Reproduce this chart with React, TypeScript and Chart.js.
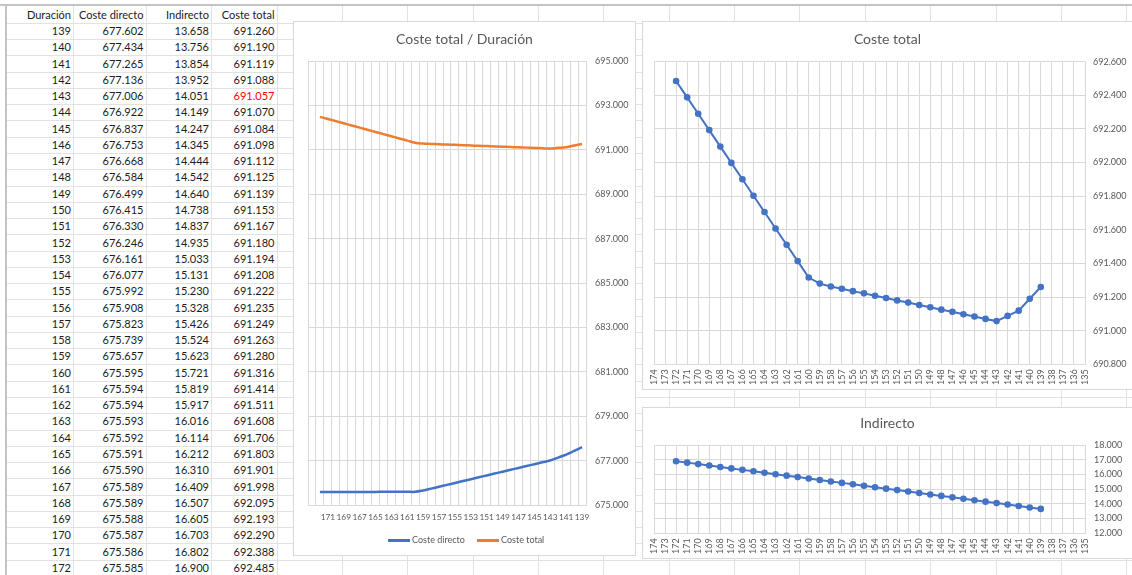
import React, { useEffect, useRef } from "react";
import { Chart, registerables } from "chart.js";

Chart.register(...registerables);

// Duración del proyecto (días) y costes asociados
const durations = [
  139, 140, 141, 142, 143, 144, 145, 146, 147, 148, 149, 150, 151, 152, 153, 154, 155,
  156, 157, 158, 159, 160, 161, 162, 163, 164, 165, 166, 167, 168, 169, 170, 171, 172,
];
const costeDirecto = [
  677602, 677434, 677265, 677136, 677006, 676922, 676837, 676753, 676668, 676584, 676499,
  676415, 676330, 676246, 676161, 676077, 675992, 675908, 675823, 675739, 675657, 675595,
  675594, 675594, 675593, 675592, 675591, 675590, 675589, 675589, 675588, 675587, 675586,
  675585,
];
const indirecto = [
  13658, 13756, 13854, 13952, 14051, 14149, 14247, 14345, 14444, 14542, 14640, 14738, 14837,
  14935, 15033, 15131, 15230, 15328, 15426, 15524, 15623, 15721, 15819, 15917, 16016, 16114,
  16212, 16310, 16409, 16507, 16605, 16703, 16802, 16900,
];
const costeTotal = [
  691260, 691190, 691119, 691088, 691057, 691070, 691084, 691098, 691112, 691125, 691139,
  691153, 691167, 691180, 691194, 691208, 691222, 691235, 691249, 691263, 691280, 691316,
  691414, 691511, 691608, 691706, 691803, 691901, 691998, 692095, 692193, 692290, 692388,
  692485,
];

// Ejes de categorías (duración decreciente)
const mainAxisTicks = [
  173, 172, 171, 170, 169, 168, 167, 166, 165, 164, 163, 162, 161, 160, 159, 158, 157, 156,
  155, 154, 153, 152, 151, 150, 149, 148, 147, 146, 145, 144, 143, 142, 141, 140, 139,
];
const wideAxisTicks = [
  174, 173, 172, 171, 170, 169, 168, 167, 166, 165, 164, 163, 162, 161, 160, 159, 158, 157,
  156, 155, 154, 153, 152, 151, 150, 149, 148, 147, 146, 145, 144, 143, 142, 141, 140, 139,
  138, 137, 136, 135,
];

const headers = ["Duración", "Coste directo", "Indirecto", "Coste total"];

const BLUE = "#4472C4";
const ORANGE = "#ED7D31";
const GRID = "#d9d9d9";
const TEXT = "#595959";
const SHEET_LINE = "#e2e2e2";
const FONT = "Lato, 'Noto Sans', sans-serif";

const fmt = (n: number) => String(Math.round(n)).replace(/\B(?=(\d{3})+(?!\d))/g, ".");

const byDuration = (values: number[], ticks: number[]) =>
  ticks.map((t) => {
    const i = durations.indexOf(t);
    return i >= 0 ? values[i] : null;
  });

const minTotalIndex = costeTotal.indexOf(Math.min(...costeTotal));

// column right edges of the sheet table
const colRight = [71, 143.5, 209, 274.5];
const sheetCols = [73, 146, 211, 277, 342, 407, 473, 538, 603, 669, 734, 799, 865, 930, 996, 1061, 1126];
const ROW_H = 16.27;
const sheetRows: number[] = [];
for (let k = 0; k <= 34; k++) sheetRows.push(22.8 + k * ROW_H);

function rotatedAxis(ticks: number[], height: number) {
  return {
    offset: false,
    grid: { offset: false, color: GRID, drawTicks: false },
    border: { color: GRID },
    ticks: {
      autoSkip: false,
      minRotation: 90,
      maxRotation: 90,
      padding: 5,
      color: TEXT,
      font: { size: 9, family: FONT },
      callback: (_v: unknown, i: number) => String(ticks[i]),
    },
    afterFit: (s: any) => {
      s.height = height;
    },
  };
}

function valueAxis(min: number, max: number, step: number, width: number, pad: number) {
  return {
    position: "right" as const,
    min,
    max,
    grid: { color: GRID, drawTicks: false },
    border: { display: false },
    ticks: {
      stepSize: step,
      padding: pad,
      color: TEXT,
      font: { size: 9, family: FONT },
      callback: (v: any) => fmt(Number(v)),
    },
    afterFit: (s: any) => {
      s.width = width;
    },
  };
}

const basePlugins = {
  legend: { display: false },
  title: { display: false },
  tooltip: { enabled: false },
};

export default function App() {
  const c1 = useRef<HTMLCanvasElement>(null);
  const c2 = useRef<HTMLCanvasElement>(null);
  const c3 = useRef<HTMLCanvasElement>(null);

  useEffect(() => {
    Chart.defaults.font.family = FONT;
    const charts: Chart[] = [];

    charts.push(
      new Chart(c1.current!, {
        type: "line",
        data: {
          labels: mainAxisTicks.map(String),
          datasets: [
            {
              label: "Coste directo",
              data: byDuration(costeDirecto, mainAxisTicks),
              borderColor: BLUE,
              borderWidth: 2.5,
              pointRadius: 0,
              tension: 0.4,
            },
            {
              label: "Coste total",
              data: byDuration(costeTotal, mainAxisTicks),
              borderColor: ORANGE,
              borderWidth: 2.5,
              pointRadius: 0,
              tension: 0.4,
            },
          ],
        },
        options: {
          responsive: false,
          animation: false,
          events: [],
          layout: { padding: { left: 14, top: 39, right: 0, bottom: 0 } },
          plugins: basePlugins as any,
          scales: {
            x: {
              offset: true,
              grid: { offset: true, color: GRID, drawTicks: false },
              border: { color: GRID },
              ticks: {
                autoSkip: false,
                maxRotation: 0,
                minRotation: 0,
                padding: 7,
                color: TEXT,
                font: { size: 8.3, family: FONT },
                callback: (_v: unknown, i: number) =>
                  i > 0 && i % 2 === 0 ? String(mainAxisTicks[i]) : "",
              },
              afterFit: (s: any) => {
                s.height = 50;
              },
            } as any,
            y: valueAxis(675000, 695000, 2000, 49, 9) as any,
          },
        },
      })
    );

    charts.push(
      new Chart(c2.current!, {
        type: "line",
        data: {
          labels: wideAxisTicks.map(String),
          datasets: [
            {
              label: "Coste total",
              data: byDuration(costeTotal, wideAxisTicks),
              borderColor: BLUE,
              backgroundColor: BLUE,
              borderWidth: 2,
              pointRadius: 3.3,
              pointBorderWidth: 0,
              pointBackgroundColor: BLUE,
              tension: 0,
            },
          ],
        },
        options: {
          responsive: false,
          animation: false,
          events: [],
          layout: { padding: { left: 11, top: 39.7, right: 0, bottom: 0 } },
          plugins: basePlugins as any,
          scales: {
            x: rotatedAxis(wideAxisTicks, 24.7) as any,
            y: valueAxis(690800, 692600, 200, 48, 8) as any,
          },
        },
      })
    );

    charts.push(
      new Chart(c3.current!, {
        type: "line",
        data: {
          labels: wideAxisTicks.map(String),
          datasets: [
            {
              label: "Indirecto",
              data: byDuration(indirecto, wideAxisTicks),
              borderColor: BLUE,
              backgroundColor: BLUE,
              borderWidth: 2,
              pointRadius: 3.3,
              pointBorderWidth: 0,
              pointBackgroundColor: BLUE,
              tension: 0,
            },
          ],
        },
        options: {
          responsive: false,
          animation: false,
          events: [],
          layout: { padding: { left: 11, top: 37, right: 0, bottom: 0 } },
          plugins: basePlugins as any,
          scales: {
            x: rotatedAxis(wideAxisTicks, 24.7) as any,
            y: valueAxis(12000, 18000, 1000, 48, 9) as any,
          },
        },
      })
    );

    return () => charts.forEach((c) => c.destroy());
  }, []);

  const abs = (style: React.CSSProperties): React.CSSProperties => ({ position: "absolute", ...style });

  const cellText = (text: string, col: number, cy: number, color = "#1b1b1b", key?: string) => (
    <div
      key={key}
      style={abs({
        left: col === 0 ? 6 : colRight[col - 1] + 4,
        width: (col === 0 ? colRight[0] - 6 : colRight[col] - colRight[col - 1] - 4),
        top: cy - 8,
        height: 16,
        lineHeight: "16px",
        textAlign: "right",
        fontSize: 11,
        color,
        whiteSpace: "nowrap",
      })}
    >
      {text}
    </div>
  );

  const rows = [costeDirecto, indirecto, costeTotal];

  return (
    <div
      style={{
        position: "fixed",
        left: 0,
        top: 0,
        width: 1132,
        height: 575,
        overflow: "hidden",
        background: "#ffffff",
        fontFamily: FONT,
      }}
    >
      {/* sheet grid */}
      {sheetCols.map((x) => (
        <div key={"v" + x} style={abs({ left: x, top: 6, width: 1, height: 575, background: SHEET_LINE })} />
      ))}
      {sheetRows.map((y) => (
        <div key={"h" + y} style={abs({ left: 6, top: Math.round(y), width: 1132, height: 1, background: SHEET_LINE })} />
      ))}
      <div style={abs({ left: 0, top: 4, width: 1132, height: 2, background: "#c4c4c4" })} />
      <div style={abs({ left: 5, top: 4, width: 2, height: 575, background: "#c4c4c4" })} />

      {/* table */}
      {headers.map((h, c) => cellText(h, c, 15, "#1b1b1b", "hd" + c))}
      {durations.map((d, i) => {
        const cy = 31 + i * ROW_H;
        return (
          <React.Fragment key={"r" + d}>
            {cellText(String(d), 0, cy)}
            {rows.map((arr, c) =>
              cellText(fmt(arr[i]), c + 1, cy, c === 2 && i === minTotalIndex ? "#ff0000" : "#1b1b1b", "c" + c)
            )}
          </React.Fragment>
        );
      })}

      {/* chart frames */}
      <div style={abs({ left: 293, top: 21, width: 343, height: 535, border: `1px solid ${GRID}`, boxSizing: "border-box", background: "#fff" })} />
      <div style={abs({ left: 642, top: 21, width: 500, height: 369, border: `1px solid ${GRID}`, boxSizing: "border-box", background: "#fff" })} />
      <div style={abs({ left: 642, top: 407, width: 500, height: 152, border: `1px solid ${GRID}`, boxSizing: "border-box", background: "#fff" })} />

      <canvas ref={c1} width={341} height={533} style={abs({ left: 294, top: 22, width: 341, height: 533 })} />
      <canvas ref={c2} width={490} height={367} style={abs({ left: 643, top: 22, width: 490, height: 367 })} />
      <canvas ref={c3} width={490} height={150} style={abs({ left: 643, top: 408, width: 490, height: 150 })} />

      {/* titles */}
      <div style={abs({ left: 294, width: 341, top: 30, height: 18, lineHeight: "18px", textAlign: "center", fontSize: 14, color: TEXT })}>
        Coste total / Duración
      </div>
      <div style={abs({ left: 643, width: 489, top: 30, height: 18, lineHeight: "18px", textAlign: "center", fontSize: 14, color: TEXT })}>
        Coste total
      </div>
      <div style={abs({ left: 643, width: 489, top: 413.5, height: 18, lineHeight: "18px", textAlign: "center", fontSize: 14, color: TEXT })}>
        Indirecto
      </div>

      {/* legend */}
      <div style={abs({ left: 388, top: 539, width: 22, height: 2.5, background: BLUE })} />
      <div style={abs({ left: 412, top: 533, height: 14, lineHeight: "14px", fontSize: 9, color: TEXT, whiteSpace: "nowrap" })}>
        Coste directo
      </div>
      <div style={abs({ left: 477, top: 539, width: 22, height: 2.5, background: ORANGE })} />
      <div style={abs({ left: 501, top: 533, height: 14, lineHeight: "14px", fontSize: 9, color: TEXT, whiteSpace: "nowrap" })}>
        Coste total
      </div>
    </div>
  );
}
